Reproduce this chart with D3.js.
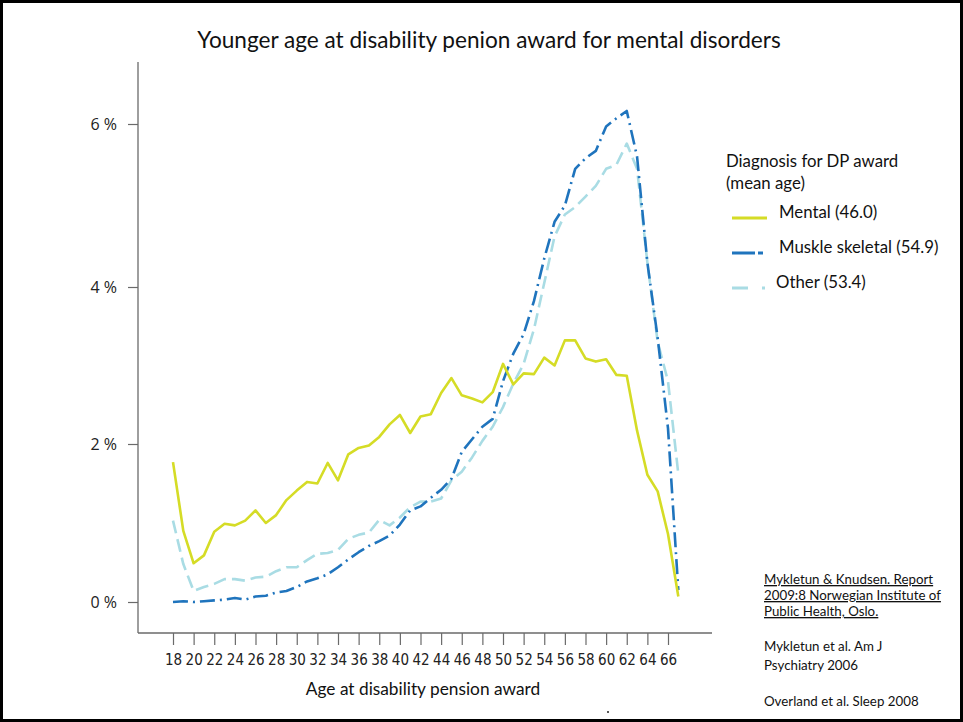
<!DOCTYPE html>
<html>
<head>
<meta charset="utf-8">
<script src="https://cdn.jsdelivr.net/npm/d3@7"></script>
<style>
  html, body { margin: 0; padding: 0; background: #fff; }
  svg { display: block; }
</style>
</head>
<body>
<svg id="chart" width="963" height="722"></svg>
<script>
// ---------- data ----------
const ages = [18,19,20,21,22,23,24,25,26,27,28,29,30,31,32,33,34,35,36,37,38,39,40,41,42,43,44,45,46,47,48,49,50,51,52,53,54,55,56,57,58,59,60,61,62,63,64,65,66,67];
const mental = [1.77,0.90,0.49,0.59,0.89,0.99,0.97,1.03,1.16,1.00,1.10,1.29,1.41,1.52,1.50,1.76,1.54,1.87,1.95,1.98,2.09,2.25,2.37,2.14,2.35,2.38,2.65,2.84,2.62,2.58,2.53,2.66,3.02,2.76,2.90,2.89,3.10,3.00,3.32,3.32,3.09,3.05,3.08,2.88,2.87,2.17,1.61,1.40,0.86,0.07];
const muskle = [0.00,0.01,0.00,0.01,0.02,0.03,0.05,0.03,0.07,0.08,0.12,0.14,0.19,0.26,0.30,0.35,0.44,0.54,0.63,0.71,0.77,0.84,0.98,1.16,1.21,1.32,1.42,1.56,1.90,2.06,2.22,2.32,2.80,3.15,3.40,3.82,4.35,4.80,5.00,5.45,5.58,5.67,5.97,6.07,6.16,5.60,4.30,3.35,2.20,0.15];
const other = [1.03,0.48,0.14,0.19,0.23,0.29,0.29,0.27,0.31,0.32,0.39,0.44,0.44,0.53,0.61,0.62,0.66,0.80,0.85,0.88,1.04,0.97,1.07,1.20,1.27,1.27,1.31,1.54,1.65,1.83,2.04,2.22,2.47,2.77,3.02,3.46,4.05,4.62,4.89,4.98,5.11,5.24,5.45,5.50,5.76,5.45,4.30,3.30,2.80,1.62];
const xTickValues = [18,20,22,24,26,28,30,32,34,36,38,40,42,44,46,48,50,52,54,56,58,60,62,64,66];
const yTickValues = [0,2,4,6];
const seriesNames = ["Mental (46.0)", "Muskle skeletal (54.9)", "Other (53.4)"];
const titleText = "Younger age at disability penion award for mental disorders";
const xTitle = "Age at disability pension award";
const legendTitle = ["Diagnosis for DP award", "(mean age)"];
const refsUnderlined = ["Mykletun & Knudsen. Report", "2009:8 Norwegian Institute of", "Public Health, Oslo."];
const refsPlain = [["Mykletun et al. Am J", "Psychiatry 2006"], ["Overland et al. Sleep 2008"]];

// ---------- layout ----------
const W = 963, H = 722;
const axisLeft = 138, axisRight = 712, axisTop = 62, axisBottom = 633;
const colors = ["#d5dc26", "#1f74bd", "#a9dce4"];
const dashes = [null, "15,5,2,5", "13,6"];
const fontMain = "Lato, 'Open Sans', sans-serif";

const svg = d3.select("#chart");
svg.append("rect").attr("x", 0).attr("y", 0).attr("width", W).attr("height", H).attr("fill", "#fff");
svg.append("rect").attr("x", 1.5).attr("y", 1.5).attr("width", W - 3).attr("height", H - 3)
  .attr("fill", "none").attr("stroke", "#000").attr("stroke-width", 3);

const x = d3.scaleLinear().domain([18, 66]).range([173, 668]);
const y = d3.scaleLinear().domain([0, 2, 4, 6]).range([602, 444, 287, 124]);

// title
svg.append("text").attr("x", 489).attr("y", 48).attr("text-anchor", "middle")
  .attr("font-family", fontMain).attr("font-size", 22.6).attr("fill", "#111").text(titleText);

// axes
const axisColor = "#6a6a6a";
svg.append("line").attr("x1", axisLeft).attr("x2", axisLeft).attr("y1", axisTop).attr("y2", axisBottom)
  .attr("stroke", axisColor).attr("stroke-width", 1.3);
svg.append("line").attr("x1", axisLeft).attr("x2", axisRight).attr("y1", axisBottom).attr("y2", axisBottom)
  .attr("stroke", axisColor).attr("stroke-width", 1.3);

const xAxis = d3.axisBottom(x).tickValues(xTickValues).tickSize(12).tickSizeOuter(0).tickPadding(9);
const gx = svg.append("g").attr("transform", `translate(0,${axisBottom})`).call(xAxis);
gx.select(".domain").remove();
gx.selectAll(".tick line").attr("stroke", axisColor).attr("stroke-width", 1.2);
gx.selectAll(".tick text").attr("font-family", "'Liberation Sans Narrow', 'DejaVu Sans Condensed', sans-serif")
  .attr("font-stretch", "condensed").attr("font-size", 15).attr("fill", "#222");

const yAxis = d3.axisLeft(y).tickValues(yTickValues).tickSize(10).tickSizeOuter(0).tickPadding(11)
  .tickFormat(d => d + " %");
const gy = svg.append("g").attr("transform", `translate(${axisLeft},0)`).call(yAxis);
gy.select(".domain").remove();
gy.selectAll(".tick line").attr("stroke", axisColor).attr("stroke-width", 1.2);
gy.selectAll(".tick text").attr("font-family", "'Open Sans', sans-serif").attr("font-size", 16).attr("fill", "#222");

svg.append("text").attr("x", 423).attr("y", 695).attr("text-anchor", "middle")
  .attr("font-family", fontMain).attr("font-size", 17.3).attr("fill", "#111").text(xTitle);

// lines
const series = [mental, muskle, other];
const line = d3.line().x((d, i) => x(ages[i])).y(d => y(d));
[2, 1, 0].forEach(k => {
  svg.append("path").datum(series[k]).attr("d", line)
    .attr("fill", "none").attr("stroke", colors[k]).attr("stroke-width", 2.6)
    .attr("stroke-linejoin", "round")
    .attr("stroke-dasharray", dashes[k]);
});

// legend
svg.append("text").attr("font-family", fontMain).attr("font-size", 16.8).attr("fill", "#111")
  .selectAll("tspan").data(legendTitle).join("tspan")
  .attr("x", 726).attr("y", (d, i) => 167 + i * 22).text(d => d);
const legY = [218, 253, 288];
const legTextX = [779, 779, 776];
const legLine = [[732, 767], [732, 764], [732, 766]];
const legDash = [null, "23,3,5,3", "16,14,3,3"];
seriesNames.forEach((name, k) => {
  svg.append("line").attr("x1", legLine[k][0]).attr("x2", legLine[k][1]).attr("y1", legY[k]).attr("y2", legY[k])
    .attr("stroke", colors[k]).attr("stroke-width", 3).attr("stroke-dasharray", legDash[k]);
  svg.append("text").attr("x", legTextX[k]).attr("y", legY[k]).attr("font-family", fontMain)
    .attr("font-size", 16.8).attr("fill", "#111").text(name);
});

// references
svg.append("text").attr("font-family", fontMain).attr("font-size", 13.3).attr("fill", "#111")
  .attr("text-decoration", "underline")
  .selectAll("tspan").data(refsUnderlined).join("tspan")
  .attr("x", 764).attr("y", (d, i) => 584 + i * 16).text(d => d);
svg.append("text").attr("font-family", fontMain).attr("font-size", 13.3).attr("fill", "#111")
  .selectAll("tspan").data(refsPlain[0]).join("tspan")
  .attr("x", 764).attr("y", (d, i) => 651 + i * 19).text(d => d);
svg.append("text").attr("font-family", fontMain).attr("font-size", 13.3).attr("fill", "#111")
  .attr("x", 764).attr("y", 706).text(refsPlain[1][0]);
svg.append("circle").attr("cx", 608).attr("cy", 712).attr("r", 1).attr("fill", "#222");
</script>
</body>
</html>
